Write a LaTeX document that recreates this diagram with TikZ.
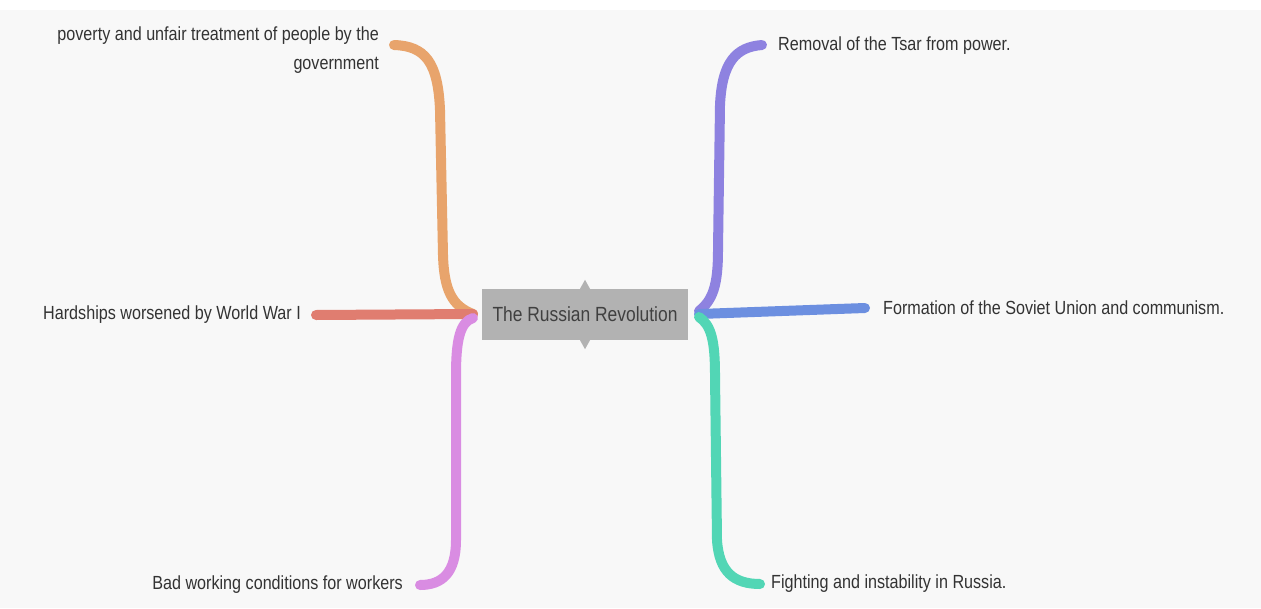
\documentclass[tikz,border=0pt]{standalone}
\usepackage{fontspec}
\newfontfamily\lblfont[FakeStretch=0.85]{Liberation Sans}
\begin{document}
\begin{tikzpicture}[x=1pt,y=-1pt,
  branch/.style={line width=10pt,line cap=round,line join=round},
  leaf/.style={font=\lblfont\fontsize{19}{29}\selectfont,text=black!80,inner sep=0pt},
  hub/.style={fill=black!30,minimum width=206pt,minimum height=51pt,inner sep=0pt,
              font=\lblfont\fontsize{20.5}{24}\selectfont,text=black!75}]
\definecolor{bgc}{HTML}{F8F8F8}
\definecolor{corange}{HTML}{E8A46C}
\definecolor{cred}{HTML}{E07D70}
\definecolor{cpink}{HTML}{D98CE2}
\definecolor{cpurple}{HTML}{8E82E0}
\definecolor{cblue}{HTML}{6C8FE0}
\definecolor{cteal}{HTML}{52D6B5}
% canvas
\useasboundingbox (0,0) rectangle (1261,608);
\fill[bgc] (0,10) rectangle (1261,608);
\fill[white] (0,0) rectangle (1261,10);

% central topic
\node[hub] (hub) at (585,314.5) {The Russian Revolution};
\fill[black!30] (hub.north) ++(-5,0) -- ++(5,-9) -- ++(5,9) -- cycle;
\fill[black!30] (hub.south) ++(-5,0) -- ++(5,9) -- ++(5,-9) -- cycle;
\coordinate (hl) at (473,314);
\coordinate (hr) at (699,314);

% branch end points
\coordinate (eO) at (394,45);
\coordinate (eR) at (316,315);
\coordinate (eP) at (420,585);
\coordinate (eU) at (762,45);
\coordinate (eB) at (865,308);
\coordinate (eT) at (760,584);

% labels
\node[leaf,anchor=east,align=right] (lO) at (379,50)
  {poverty and unfair treatment of people by the\\government};
\node[leaf,anchor=east] (lR) at (301,315) {Hardships worsened by World War I};
\node[leaf,anchor=east] (lP) at (403,585) {Bad working conditions for workers};
\node[leaf,anchor=west] (lU) at (778,46) {Removal of the Tsar from power.};
\node[leaf,anchor=west] (lB) at (883,308) {Formation of the Soviet Union and communism.};
\node[leaf,anchor=west] (lT) at (771,584) {Fighting and instability in Russia.};

% left branches
\draw[branch,corange] (hl) .. controls (452,306) and (444,290) .. (443,255)
  -- (440,110) .. controls (438,62) and (425,46) .. (eO);
\draw[branch,cred] (hl) -- (eR);
\draw[branch,cpink] (hl) ++(0,4) .. controls (460,322) and (456,340) .. (456,375)
  -- (456,540) .. controls (456,573) and (442,585) .. (eP);
% right branches
\draw[branch,cpurple] (hr) ++(0,-3) .. controls (713,300) and (718,285) .. (718,250)
  -- (720,105) .. controls (722,62) and (736,47) .. (eU);
\draw[branch,cblue] (hr) -- (eB);
\draw[branch,cteal] (hr) ++(0,3) .. controls (711,325) and (715,340) .. (715,375)
  -- (717,540) .. controls (719,572) and (734,584) .. (eT);
\end{tikzpicture}
\end{document}
